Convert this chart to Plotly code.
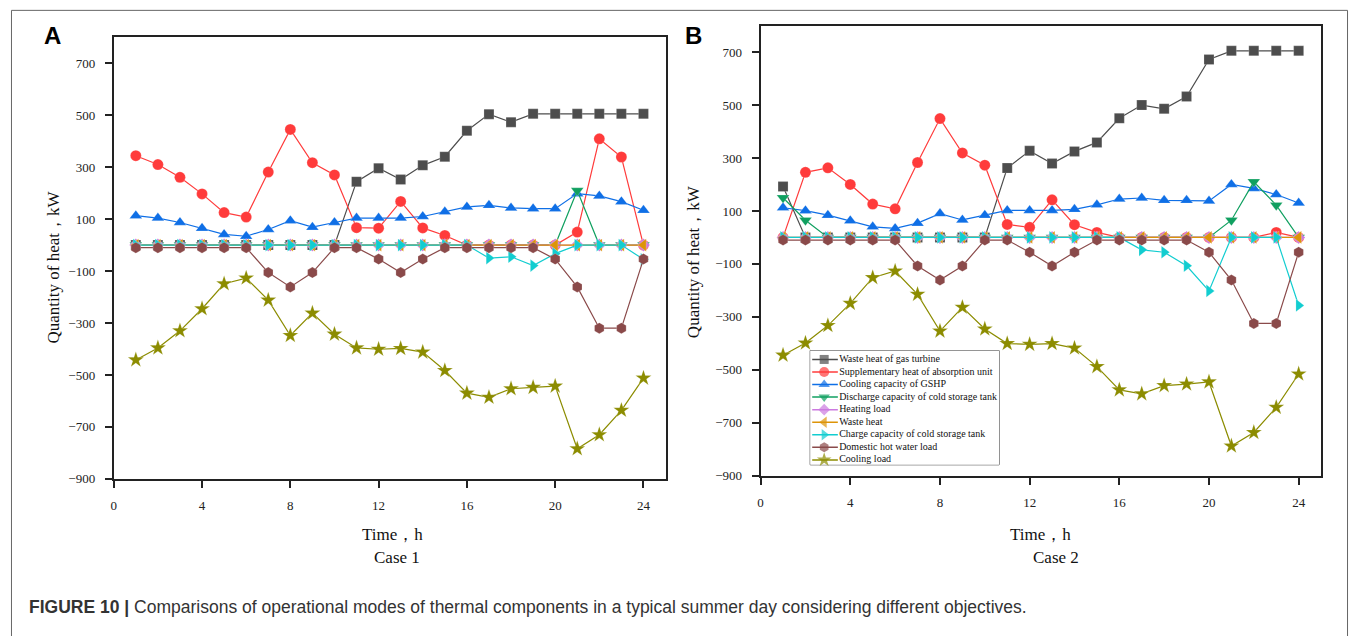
import plotly.graph_objects as go

W, H = 1356, 636

hours = list(range(1, 25))

series_names = [
    "Waste heat of gas turbine",
    "Supplementary heat of absorption unit",
    "Cooling capacity of GSHP",
    "Discharge capacity of cold storage tank",
    "Heating load",
    "Waste heat",
    "Charge capacity of cold storage tank",
    "Domestic hot water load",
    "Cooling load",
]

# Case 1
gas1 = [0, 0, 0, 0, 0, 0, 0, 0, 0, 0, 244, 296, 252, 307, 340, 440, 504, 473, 505, 505, 505, 505, 505, 505]
sup1 = [344, 310, 261, 197, 125, 108, 281, 445, 317, 270, 67, 65, 168, 66, 37, 0, 0, 0, 0, 0, 50, 409, 339, 0]
gshp1 = [113, 104, 87, 65, 41, 34, 60, 94, 69, 87, 104, 104, 104, 110, 128, 147, 153, 143, 140, 140, 198, 189, 167, 134]
dis1 = [0] * 20 + [210, 0, 0, 0]
heat1 = [0] * 24
waste1 = [0] * 24
charge1 = [0] * 16 + [-50, -45, -79, -33, 0, 0, 0, -55]
dhw1 = [-10] * 6 + [-106, -161, -106, -10, -10, -54, -106, -54, -10, -10, -10, -10, -10, -54, -161, -320, -320, -54]
cool1 = [-442, -396, -330, -245, -149, -127, -212, -348, -262, -343, -396, -401, -398, -412, -483, -570, -586, -553, -548, -543, -784, -730, -636, -512]

# Case 2
gas2 = [192] + [0] * 9 + [262, 327, 279, 325, 359, 450, 500, 486, 532, 672, 705, 705, 705, 705]
sup2 = [0, 246, 263, 200, 126, 108, 283, 449, 319, 273, 49, 38, 142, 48, 19, 0, 0, 0, 0, 0, 0, 0, 19, 0]
gshp2 = [112, 101, 84, 63, 40, 34, 54, 90, 66, 84, 102, 102, 102, 106, 123, 145, 149, 140, 140, 138, 200, 185, 162, 130]
dis2 = [150, 65] + [0] * 18 + [65, 210, 122, 0]
heat2 = [0] * 24
waste2 = [0] * 24
charge2 = [0] * 16 + [-47, -56, -107, -202, 0, 0, 0, -257]
dhw2 = [-10] * 6 + [-108, -161, -108, -10, -10, -56, -108, -56, -10, -10, -10, -10, -10, -56, -161, -325, -325, -56]
cool2 = [-445, -399, -333, -249, -152, -127, -215, -354, -264, -346, -401, -404, -401, -418, -488, -576, -591, -560, -554, -546, -788, -737, -642, -516]

y_ticks = [-900, -700, -500, -300, -100, 100, 300, 500, 700]
x_ticks = [0, 4, 8, 12, 16, 20, 24]

colors = ["#4d4d4d", "#ff3b3b", "#0f6fe6", "#10a060", "#cc7ae0", "#dd9408", "#12cdd0", "#8a4a4a", "#8c8c00"]
symbols = ["square", "circle", "triangle-up", "triangle-down", "diamond", "triangle-left",
           "triangle-right", "hexagon", "star"]
sizes = [10, 11, 11, 11, 10, 11, 11, 11, 12]

case1 = [gas1, sup1, gshp1, dis1, heat1, waste1, charge1, dhw1, cool1]
case2 = [gas2, sup2, gshp2, dis2, heat2, waste2, charge2, dhw2, cool2]

# legend layout (row index, and sample-line positions in legend-box pixel units)
legend_rows = list(range(len(series_names)))
legend_sample_x = [2, 14, 27.7]
legend_text_x = 29

fig = go.Figure()

for axis_id, data in (("", case1), ("2", case2)):
    for i, name in enumerate(series_names):
        fig.add_trace(go.Scatter(
            x=hours, y=data[i], name=name, mode="lines+markers",
            xaxis="x" + axis_id, yaxis="y" + axis_id,
            line=dict(color=colors[i], width=1.2),
            marker=dict(symbol=symbols[i], size=sizes[i], color=colors[i],
                        line=dict(width=0.5, color="rgba(255,255,255,0.4)")),
            showlegend=False,
        ))

# hand-built compact legend on an overlay axis inside panel B
for i, name in enumerate(series_names):
    fig.add_trace(go.Scatter(
        x=legend_sample_x, y=[legend_rows[i]] * 3, mode="lines+markers",
        xaxis="x3", yaxis="y3", showlegend=False, hoverinfo="skip",
        line=dict(color=colors[i], width=1.5),
        marker=dict(symbol=symbols[i], size=[0, sizes[i] - 1, 0], color=colors[i],
                    line=dict(width=0)),
        cliponaxis=False,
    ))
fig.add_trace(go.Scatter(
    x=[legend_text_x] * len(series_names), y=legend_rows, text=series_names,
    mode="text", textposition="middle right", xaxis="x3", yaxis="y3",
    showlegend=False, hoverinfo="skip", cliponaxis=False,
    textfont=dict(family="Liberation Serif, Times New Roman, serif", size=10, color="#111"),
))

def px_x(p):
    return p / W

def px_y(p):
    return 1 - p / H

tick_font = dict(family="Liberation Serif, Times New Roman, serif", size=13, color="#222")
axis_common = dict(showline=True, linecolor="#222", linewidth=2, mirror=True,
                   ticks="outside", ticklen=7, tickwidth=1.5, tickcolor="#222",
                   showgrid=False, zeroline=False, tickfont=tick_font, ticklabelstandoff=7)

fig.update_layout(
    width=W, height=H,
    margin=dict(l=0, r=0, t=0, b=0),
    paper_bgcolor="white", plot_bgcolor="white",
    showlegend=False,
    xaxis=dict(domain=[px_x(111), px_x(664)], range=[0, 25], tickvals=x_ticks,
               anchor="y", **axis_common),
    yaxis=dict(domain=[px_y(485), px_y(37.7)], range=[-900, 800], tickvals=y_ticks,
               anchor="x", **axis_common),
    xaxis2=dict(domain=[px_x(759.3), px_x(1321)], range=[0, 25], tickvals=x_ticks,
                anchor="y2", **axis_common),
    yaxis2=dict(domain=[px_y(481.7), px_y(26)], range=[-900, 800], tickvals=y_ticks,
                anchor="x2", **axis_common),
    xaxis3=dict(domain=[px_x(809), px_x(998.3)], range=[0, 189.3], visible=False,
                anchor="y3", fixedrange=True),
    yaxis3=dict(domain=[px_y(470.7), px_y(355)], range=[8.39, -0.71], visible=False,
                anchor="x3", fixedrange=True),
)

serif = "Liberation Serif, Times New Roman, serif"
ann = []
def add_text(text, x, y, size, family=serif, color="#111", angle=0, xanchor="center"):
    ann.append(dict(text=text, x=px_x(x), y=px_y(y), xref="paper", yref="paper",
                    showarrow=False, font=dict(family=family, size=size, color=color),
                    textangle=angle, xanchor=xanchor, yanchor="middle"))

add_text("<b>A</b>", 50, 36, 24, family="Liberation Sans, Arial, sans-serif", color="#000")
add_text("<b>B</b>", 692, 36, 24, family="Liberation Sans, Arial, sans-serif", color="#000")
add_text("Quantity of heat，kW", 51, 270, 17, angle=-90)
add_text("Quantity of heat，kW", 692, 265, 17, angle=-90)
add_text("Time，h", 390, 541, 17)
add_text("Case 1", 395, 565, 17)
add_text("Time，h", 1040, 541, 17)
add_text("Case 2", 1055, 565, 17)
add_text("<b>FIGURE 10 |</b> Comparisons of operational modes of thermal components in a typical summer day considering different objectives.",
         24, 615, 17.5, family="Liberation Sans, Arial, sans-serif", color="#333", xanchor="left")

fig.update_layout(annotations=ann)

fig.add_shape(type="rect", xref="paper", yref="paper",
              x0=px_x(8.5), x1=px_x(1347.5), y0=px_y(660), y1=px_y(10.5),
              line=dict(color="#666", width=1), fillcolor="rgba(0,0,0,0)", layer="below")
fig.add_shape(type="rect", xref="x3 domain", yref="y3 domain",
              x0=0, x1=1, y0=0, y1=1,
              line=dict(color="#333", width=1), fillcolor="white", layer="below")

fig.write_html("out.html")
